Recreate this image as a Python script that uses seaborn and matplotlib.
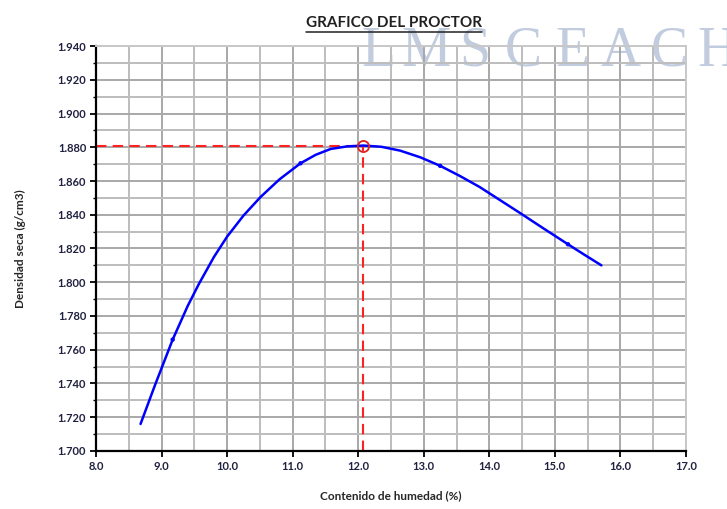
import numpy as np
import pandas as pd
import matplotlib
matplotlib.use('Agg')
import matplotlib.pyplot as plt
from matplotlib.ticker import MultipleLocator, FormatStrFormatter
import seaborn as sns

# curve (humedad %, densidad seca g/cm3)
curve_x = [8.68, 8.90, 9.17, 9.40, 9.57, 9.80, 10.00, 10.25, 10.51, 10.80,
           11.12, 11.35, 11.58, 11.83, 12.08, 12.35, 12.64, 12.95, 13.25,
           13.55, 13.85, 14.15, 14.47, 14.83, 15.20, 15.45, 15.71]
curve_y = [1.716, 1.739, 1.766, 1.786, 1.799, 1.815, 1.827, 1.8395, 1.8505, 1.861,
           1.8705, 1.8755, 1.879, 1.8805, 1.881, 1.8803, 1.878, 1.874, 1.869,
           1.863, 1.8565, 1.849, 1.841, 1.8318, 1.8225, 1.8163, 1.810]

# ensayo points
pts_x = [9.17, 11.12, 13.25, 15.20]
pts_y = [1.766, 1.8705, 1.869, 1.8225]

# optimo
opt_x = 12.08
opt_y = 1.881

curve = pd.DataFrame({'w': curve_x, 'd': curve_y})
pts = pd.DataFrame({'w': pts_x, 'd': pts_y})

sns.set_style('white')
plt.rcParams['font.family'] = ['Lato', 'DejaVu Sans']

fig = plt.figure(figsize=(7.27, 5.09), dpi=100)
ax = fig.add_axes([0.132, 0.114, 0.8116, 0.7956])
ax.patch.set_alpha(0)

# ── grid ──
ax.set_xlim(8.0, 17.0)
ax.set_ylim(1.700, 1.940)
ax.xaxis.set_major_locator(MultipleLocator(1.0))
ax.xaxis.set_minor_locator(MultipleLocator(0.5))
ax.yaxis.set_major_locator(MultipleLocator(0.02))
ax.yaxis.set_minor_locator(MultipleLocator(0.01))
ax.xaxis.set_major_formatter(FormatStrFormatter('%.1f'))
ax.yaxis.set_major_formatter(FormatStrFormatter('%.3f'))
ax.grid(which='major', color='#a8a8a8', lw=1.4)
ax.grid(which='minor', color='#bdbdbd', lw=1.4)
ax.set_axisbelow(True)

# ── watermark (behind the grid) ──
for i, ch in enumerate('LMSCEACH'):
    fig.text((378 + 48.5 * i) / 727, (509 - 66) / 509, ch, fontsize=40,
             family='Liberation Serif', color='#b7c3d9', alpha=0.85,
             ha='center', va='baseline', zorder=-1)

# ── curve and points ──
sns.lineplot(data=curve, x='w', y='d', sort=False, color='#0000ff', lw=1.8, ax=ax, zorder=3)
sns.scatterplot(data=pts, x='w', y='d', color='#0000ff', s=10, edgecolor='none', ax=ax, zorder=4)

# ── optimo lines ──
ax.plot([8.0, opt_x], [opt_y, opt_y], color='#ff2020', lw=1.5, ls=(0, (5, 3)), zorder=2.5)
ax.plot([opt_x, opt_x], [1.700, opt_y], color='#ff2020', lw=1.5, ls=(0, (5, 3)), zorder=2.5)
ax.plot([opt_x], [opt_y], marker='o', ms=8, mfc='none', mec='#e02020', mew=1.3, zorder=5)

# ── spines / ticks ──
for s in ['top', 'right']:
    ax.spines[s].set_color('#c8c8c8')
    ax.spines[s].set_linewidth(1.4)
for s in ['left', 'bottom']:
    ax.spines[s].set_color('black')
    ax.spines[s].set_linewidth(1.6)
ax.tick_params(which='major', direction='out', length=4, width=1.3, color='black',
               labelsize=8, pad=3, left=True, bottom=True)
ax.tick_params(which='minor', direction='out', length=2, width=1.0, color='black',
               left=True, bottom=False)
for lab in ax.get_xticklabels() + ax.get_yticklabels():
    lab.set_fontweight('bold')
    lab.set_color('#202040')

ax.set_xlabel('Contenido de humedad (%)', fontsize=8.5, fontweight='bold', labelpad=13)
ax.set_ylabel('Densidad seca (g/cm3)', fontsize=8.5, fontweight='bold', labelpad=23)

# ── title with underline ──
t = fig.text(0.542, 0.955, 'GRAFICO DEL PROCTOR', fontsize=11, fontweight='bold',
             ha='center', va='center', color='#202020', zorder=6)
fig.canvas.draw()
bb = t.get_window_extent().transformed(fig.transFigure.inverted())
fig.add_artist(plt.Line2D([bb.x0, bb.x1], [bb.y0 - 0.004, bb.y0 - 0.004],
                          transform=fig.transFigure, color='#202020', lw=1.1, zorder=6))

plt.savefig('out.png', dpi=100)
plt.close()
